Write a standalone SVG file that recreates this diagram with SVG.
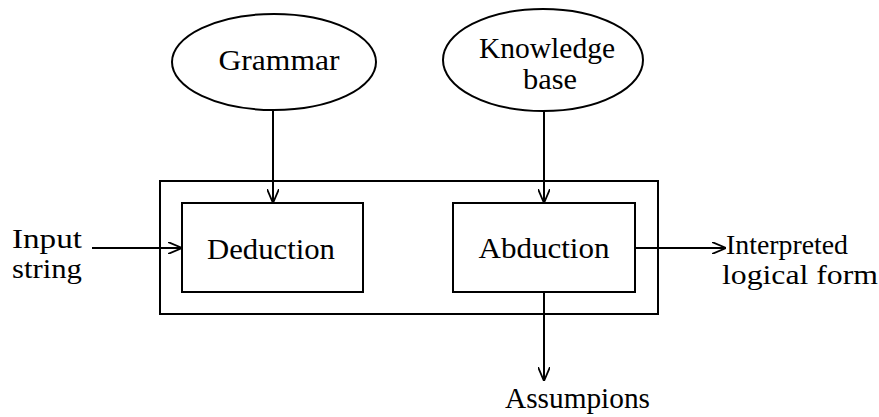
<svg xmlns="http://www.w3.org/2000/svg" width="879" height="417" viewBox="0 0 879 417">
<defs>
<style>
.s{fill:none;stroke:#000;stroke-width:2}
.t{font-family:"Liberation Serif","DejaVu Serif","Times New Roman",serif;font-size:29px;fill:#000}
.m{font-size:27px}
.c{text-anchor:middle}
.e{stroke:#000;stroke-width:2;fill:none;marker-end:url(#ah)}
</style>
<marker id="ah" viewBox="0 0 14 12" refX="14" refY="6" markerWidth="14" markerHeight="12" markerUnits="userSpaceOnUse" orient="auto">
<path d="M0,0 L14,6 L0,12" fill="none" stroke="#000" stroke-width="1.8"/>
</marker>
</defs>
<rect width="879" height="417" fill="#fff"/>
<g id="system"><rect class="s" x="160" y="181" width="498" height="133"/></g>
<g id="grammar"><ellipse class="s" cx="274" cy="62" rx="102" ry="48"/><text class="t c" x="279" y="70" textLength="121" lengthAdjust="spacingAndGlyphs">Grammar</text></g>
<g id="kb"><ellipse class="s" cx="543" cy="60" rx="100" ry="51"/><text class="t c" x="547" y="58" textLength="136" lengthAdjust="spacingAndGlyphs">Knowledge</text><text class="t c" x="550" y="89" textLength="54" lengthAdjust="spacingAndGlyphs">base</text></g>
<g id="deduction"><rect class="s" x="182" y="203" width="181" height="89"/><text class="t c" x="271" y="259" textLength="128" lengthAdjust="spacingAndGlyphs">Deduction</text></g>
<g id="abduction"><rect class="s" x="453" y="203" width="182" height="89"/><text class="t c" x="544" y="258" textLength="131" lengthAdjust="spacingAndGlyphs">Abduction</text></g>
<g id="input"><text class="t m" x="12" y="248" textLength="70" lengthAdjust="spacingAndGlyphs">Input</text><text class="t m" x="12" y="278" textLength="70" lengthAdjust="spacingAndGlyphs">string</text></g>
<g id="output"><text class="t m" x="726" y="254" textLength="122" lengthAdjust="spacingAndGlyphs">Interpreted</text><text class="t m" x="722" y="284" textLength="156" lengthAdjust="spacingAndGlyphs">logical form</text></g>
<g id="assumptions"><text class="t" x="505" y="408" textLength="145" lengthAdjust="spacingAndGlyphs">Assumpions</text></g>
<g id="connectors">
<line class="e" x1="273" y1="110" x2="273" y2="203"/>
<line class="e" x1="544" y1="111" x2="544" y2="203"/>
<line class="e" x1="92" y1="248" x2="182" y2="248"/>
<line class="e" x1="635" y1="248" x2="726" y2="248"/>
<line class="e" x1="544" y1="292" x2="544" y2="381"/>
</g>
</svg>
